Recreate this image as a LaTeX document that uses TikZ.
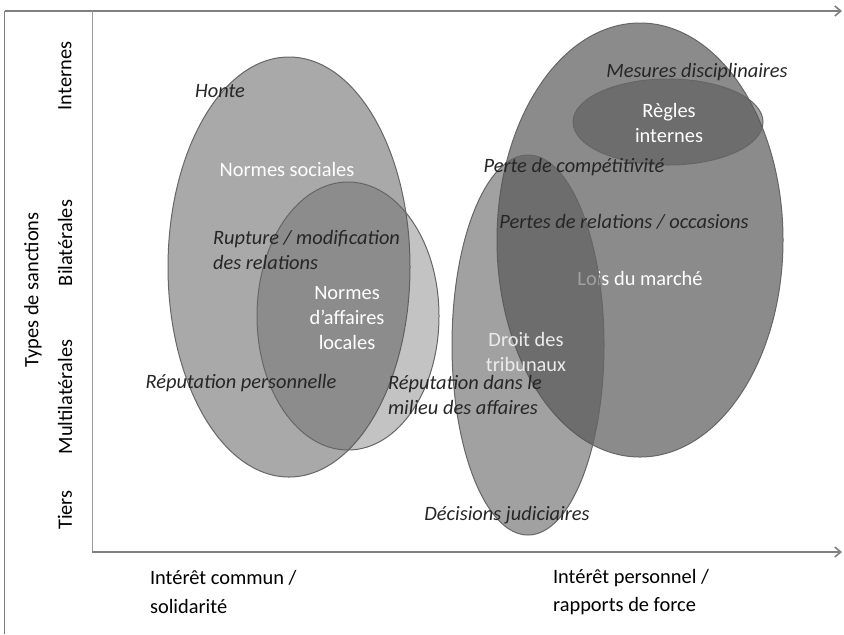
\documentclass[tikz,border=0pt]{standalone}
\usepackage{fontspec}
\setmainfont{Carlito}
\usetikzlibrary{arrows.meta}

\begin{document}
\begin{tikzpicture}[x=0.5pt,y=-0.5pt,>={Straight Barb[length=3pt,width=5pt]},line join=round,
  axe/.style={draw=black!50,line width=0.8pt},
  zone/.style={draw=black!60,line width=0.5pt,fill=black!67},
  nom/.style={text=white,font=\fontsize{10.2}{12.4}\selectfont,align=center},
  sanction/.style={text=black!85,font=\fontsize{10.2}{12.8}\selectfont\itshape},
  niveau/.style={font=\fontsize{10.2}{12.4}\selectfont,rotate=90}]
  \useasboundingbox (0,0) rectangle (844,634);
  % cadre et axes
  \coordinate (B0) at (4.5,634);
  \coordinate (B1) at (4.5,11);
  \coordinate (B2) at (842,11);
  \coordinate (Y0) at (92,552);
  \coordinate (Y1) at (92,11);
  \coordinate (X1) at (842,552);
  \draw[axe] (B0) -- (B1);
  \draw[axe,->] (B1) -- (B2);
  \draw[draw=black!40,line width=0.5pt] (Y1) -- (Y0);
  \draw[axe,->] (Y0) -- (X1);
  % centres des zones
  \coordinate (Csoc) at (289,267);
  \coordinate (Cloc) at (348,316);
  \coordinate (Cmar) at (640,240);
  \coordinate (Creg) at (668,122);
  \coordinate (Ctri) at (528,345);
  % zones
  \draw[zone,fill opacity=0.5] (Csoc) ellipse [x radius=60.5pt,y radius=105pt];
  \draw[zone,fill opacity=0.35] (Cloc) ellipse [x radius=45.5pt,y radius=67pt];
  \node[nom] (soc) at (287,169) {Normes sociales};
  \node[nom] (loc) at (347,318) {Normes\\d’affaires\\locales};
  \draw[zone,fill opacity=0.68] (Cmar) ellipse [x radius=71.5pt,y radius=108.5pt];
  \node[nom] (mar) at (640,278) {Lois du marché};
  \draw[zone,fill opacity=0.55] (Creg) ellipse [x radius=47.5pt,y radius=21.5pt];
  \node[nom] (reg) at (669,123) {Règles\\internes};
  \draw[zone,fill opacity=0.55] (Ctri) ellipse [x radius=38pt,y radius=95pt];
  \node[nom,text=white!92!black] (tri) at (526,352) {Droit des\\tribunaux};
  % sanctions
  \node[sanction] (honte) at (220,91) {Honte};
  \node[sanction,anchor=west,align=left] (rupt) at (206,250) {Rupture / modification\\des relations};
  \node[sanction] (reppers) at (241,383) {Réputation personnelle};
  \node[sanction,anchor=west,align=left] (repaff) at (381,395) {Réputation dans le\\milieu des affaires};
  \node[sanction] (disc) at (697,72) {Mesures disciplinaires};
  \node[sanction] (comp) at (574,167) {Perte de compétitivité};
  \node[sanction] (occ) at (624,222) {Pertes de relations / occasions};
  \node[sanction] (jud) at (507,515) {Décisions judiciaires};
  % axe vertical
  \node[niveau] (int) at (65,76) {Internes};
  \node[niveau] (bil) at (65,243) {Bilatérales};
  \node[niveau] (mul) at (65,397) {Multilatérales};
  \node[niveau] (tie) at (65,510) {Tiers};
  \node[niveau] (types) at (33,290) {Types de sanctions};
  % axe horizontal
  \node[font=\fontsize{10.2}{14.2}\selectfont,anchor=west,align=left] (comm) at (143,592) {Intérêt commun /\\solidarité};
  \node[font=\fontsize{10.2}{14.2}\selectfont,anchor=west,align=left] (pers) at (546,592) {Intérêt personnel /\\rapports de force};
\end{tikzpicture}
\end{document}
